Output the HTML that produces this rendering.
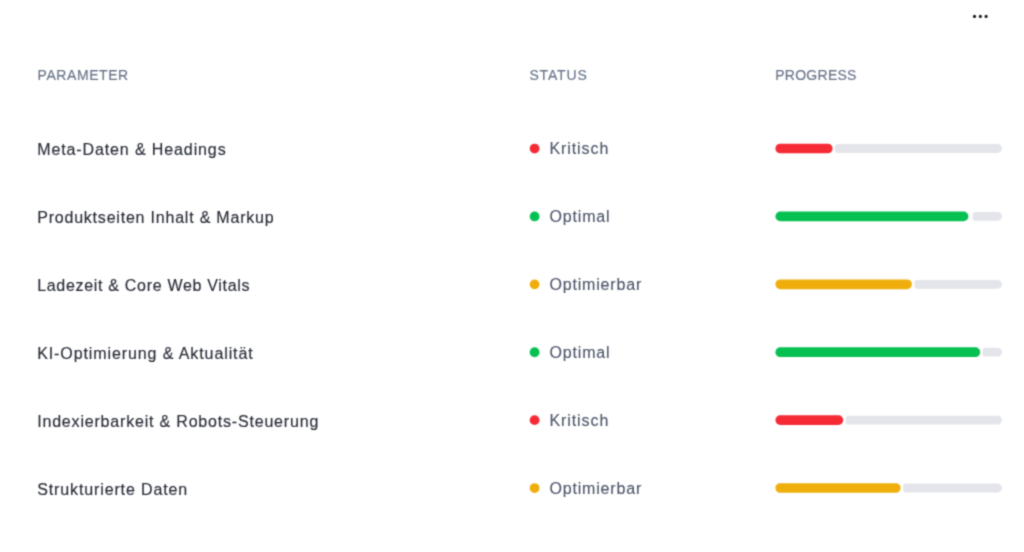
<!DOCTYPE html>
<html lang="de">
<head>
<meta charset="utf-8">
<title>SEO Parameter</title>
<style>
  html, body { margin: 0; padding: 0; }
  body {
    width: 1024px; height: 552px; overflow: hidden; background: #ffffff;
    font-family: "Liberation Sans", sans-serif;
    position: relative;
  }
  .page { position: absolute; left: 0; top: 0; width: 1024px; height: 552px; filter: url(#soft); }
  .gfx { position: absolute; left: 0; top: 0; }
  .th { position: absolute; top: 67px; height: 16px; line-height: 16px;
        font-size: 14px; letter-spacing: 0.5px; color: #667086; -webkit-text-stroke: 0.14px #667086;
        white-space: nowrap; }
  .th.c1 { left: 37.5px; letter-spacing: 0.58px; }
  .th.c2 { left: 529.4px; letter-spacing: 0.86px; }
  .th.c3 { left: 775.2px; letter-spacing: 0.27px; }
  .row { position: absolute; left: 0; width: 1024px; height: 68px; }
  .name { position: absolute; left: 37.2px; top: 25.5px; height: 20px; line-height: 20px;
          font-size: 16px; color: #262a35; -webkit-text-stroke: 0.14px #262a35; white-space: nowrap; }
  .status { position: absolute; left: 549.4px; top: 24.65px; height: 20px; line-height: 20px;
          font-size: 16px; color: #485064; -webkit-text-stroke: 0.08px #485064; white-space: nowrap; }
</style>
</head>
<body>
<svg width="0" height="0" style="position:absolute"><defs>
  <filter id="soft" x="0" y="0" width="100%" height="100%" color-interpolation-filters="sRGB">
    <feConvolveMatrix order="3" kernelMatrix="0.03516 0.11719 0.03516 0.11719 0.39062 0.11719 0.03516 0.11719 0.03516" edgeMode="duplicate" preserveAlpha="false"/>
  </filter>
</defs></svg>
<div class="page">
<svg class="gfx" width="1024" height="552" viewBox="0 0 1024 552">
  <circle cx="974.5" cy="16.4" r="1.58" fill="#17181c"/>
  <circle cx="980.35" cy="16.4" r="1.58" fill="#17181c"/>
  <circle cx="986.1" cy="16.4" r="1.58" fill="#17181c"/>
  <circle cx="534.6" cy="148.55" r="4.9" fill="#f52a35"/>
  <path d="M837.60,144.10 H997.60 A4.40,4.40 0 0 1 997.60,152.90 H837.60 A2.6,2.6 0 0 1 835.00,150.30 V146.70 A2.6,2.6 0 0 1 837.60,144.10 Z" fill="#e4e5ea"/>
  <rect x="775.40" y="143.65" width="57.20" height="9.7" rx="4.85" fill="#f52a35"/>
  <circle cx="534.6" cy="216.45" r="4.9" fill="#06c152"/>
  <path d="M975.20,212.00 H997.60 A4.40,4.40 0 0 1 997.60,220.80 H975.20 A2.6,2.6 0 0 1 972.60,218.20 V214.60 A2.6,2.6 0 0 1 975.20,212.00 Z" fill="#e4e5ea"/>
  <rect x="775.40" y="211.55" width="193.00" height="9.7" rx="4.85" fill="#06c152"/>
  <circle cx="534.6" cy="284.35" r="4.9" fill="#efae0c"/>
  <path d="M917.10,279.90 H997.60 A4.40,4.40 0 0 1 997.60,288.70 H917.10 A2.6,2.6 0 0 1 914.50,286.10 V282.50 A2.6,2.6 0 0 1 917.10,279.90 Z" fill="#e4e5ea"/>
  <rect x="775.40" y="279.45" width="136.50" height="9.7" rx="4.85" fill="#efae0c"/>
  <circle cx="534.6" cy="352.25" r="4.9" fill="#06c152"/>
  <path d="M985.20,347.80 H997.60 A4.40,4.40 0 0 1 997.60,356.60 H985.20 A2.6,2.6 0 0 1 982.60,354.00 V350.40 A2.6,2.6 0 0 1 985.20,347.80 Z" fill="#e4e5ea"/>
  <rect x="775.40" y="347.35" width="204.80" height="9.7" rx="4.85" fill="#06c152"/>
  <circle cx="534.6" cy="420.15" r="4.9" fill="#f52a35"/>
  <path d="M848.30,415.70 H997.60 A4.40,4.40 0 0 1 997.60,424.50 H848.30 A2.6,2.6 0 0 1 845.70,421.90 V418.30 A2.6,2.6 0 0 1 848.30,415.70 Z" fill="#e4e5ea"/>
  <rect x="775.40" y="415.25" width="67.90" height="9.7" rx="4.85" fill="#f52a35"/>
  <circle cx="534.6" cy="488.05" r="4.9" fill="#efae0c"/>
  <path d="M905.80,483.60 H997.60 A4.40,4.40 0 0 1 997.60,492.40 H905.80 A2.6,2.6 0 0 1 903.20,489.80 V486.20 A2.6,2.6 0 0 1 905.80,483.60 Z" fill="#e4e5ea"/>
  <rect x="775.40" y="483.15" width="125.20" height="9.7" rx="4.85" fill="#efae0c"/>
</svg>

  <div class="th c1">PARAMETER</div>
  <div class="th c2">STATUS</div>
  <div class="th c3">PROGRESS</div>

  <div class="row" style="top:114.5px">
    <div class="name" style="letter-spacing:0.885px">Meta-Daten &amp; Headings</div>
    <div class="status" style="letter-spacing:0.93px">Kritisch</div>
  </div>
  <div class="row" style="top:182.4px">
    <div class="name" style="letter-spacing:0.79px">Produktseiten Inhalt &amp; Markup</div>
    <div class="status" style="letter-spacing:0.85px">Optimal</div>
  </div>
  <div class="row" style="top:250.3px">
    <div class="name" style="letter-spacing:0.69px">Ladezeit &amp; Core Web Vitals</div>
    <div class="status" style="letter-spacing:0.83px">Optimierbar</div>
  </div>
  <div class="row" style="top:318.2px">
    <div class="name" style="letter-spacing:0.9px">KI-Optimierung &amp; Aktualität</div>
    <div class="status" style="letter-spacing:0.85px">Optimal</div>
  </div>
  <div class="row" style="top:386.1px">
    <div class="name" style="letter-spacing:0.81px">Indexierbarkeit &amp; Robots-Steuerung</div>
    <div class="status" style="letter-spacing:0.93px">Kritisch</div>
  </div>
  <div class="row" style="top:454.0px">
    <div class="name" style="letter-spacing:0.875px">Strukturierte Daten</div>
    <div class="status" style="letter-spacing:0.83px">Optimierbar</div>
  </div>
</div>
</body>
</html>
